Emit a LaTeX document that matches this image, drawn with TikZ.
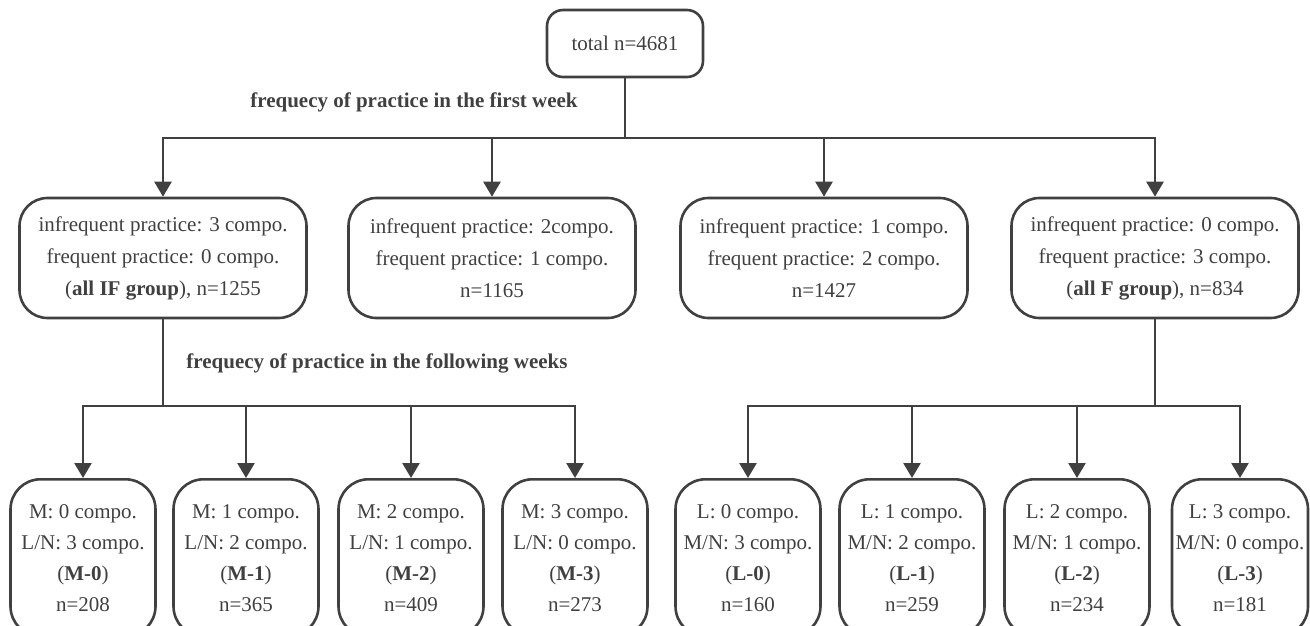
\documentclass[tikz,border=0pt]{standalone}
\usepackage{fontspec}
\setmainfont{Liberation Serif}
\usetikzlibrary{arrows.meta}
\definecolor{ink}{HTML}{404040}
\begin{document}
\begin{tikzpicture}[x=1pt,y=-1pt,font=\fontsize{21}{31}\selectfont,
  every node/.style={text=ink},
  line/.style={draw=ink,line width=2.6pt},
  arr/.style={line,-{Triangle[width=17pt,length=15pt]}},
  topbox/.style={line,rounded corners=16pt,minimum width=156pt,minimum height=67pt,inner sep=0pt},
  grpbox/.style={line,rounded corners=28pt,minimum width=287pt,minimum height=120pt,inner sep=0pt,align=center,font=\fontsize{21}{32}\selectfont},
  subbox/.style={line,rounded corners=30pt,minimum width=145pt,minimum height=157pt,inner sep=0pt,align=center,anchor=north},
  lbl/.style={font=\fontsize{21}{25}\selectfont\bfseries}]
\clip (0,0) rectangle (1310,626);
% first level
\node[topbox] (tot) at (625,43.5) {total n=4681};
\node[lbl] (w1) at (414,102) {frequecy of practice in the first week};
\node[grpbox] (g1) at (163,258) {infrequent practice: 3 compo.\\frequent practice: 0 compo.\\(\textbf{all IF group}), n=1255};
\node[grpbox] (g2) at (492,258) {infrequent practice: 2compo.\\frequent practice: 1 compo.\\n=1165};
\node[grpbox] (g3) at (824,258) {infrequent practice: 1 compo.\\frequent practice: 2 compo.\\n=1427};
\node[grpbox] (g4) at (1155,258) {infrequent practice: 0 compo.\\frequent practice: 3 compo.\\(\textbf{all F group}), n=834};
\coordinate (j0) at (tot.south |- 0,138);
\draw[line] (tot) -- (j0);
\foreach \g in {g1,g2,g3,g4}{\draw[arr] (j0) -| (\g.north);}
% following weeks
\node[lbl] (w2) at (377,363) {frequecy of practice in the following weeks};
\foreach \x/\k/\a/\b/\n in {83/0/0/3/208,246/1/1/2/365,411/2/2/1/409,575/3/3/0/273}{\node[subbox] (m\k) at (\x,478) {M: \a\ compo.\\L/N: \b\ compo.\\(\textbf{M-\k})\\n=\n};}
\foreach \x/\k/\a/\b/\n in {748/0/0/3/160,912/1/1/2/259,1077/2/2/1/234}{\node[subbox] (l\k) at (\x,478) {L: \a\ compo.\\M/N: \b\ compo.\\(\textbf{L-\k})\\n=\n};}
\node[subbox,minimum width=136pt] (l3) at (1240,478) {L: 3 compo.\\M/N: 0 compo.\\(\textbf{L-3})\\n=181};
\coordinate (j1) at (g1.south |- 0,406);
\draw[line] (g1) -- (j1);
\foreach \m in {m0,m1,m2,m3}{\draw[arr] (j1) -| (\m.north);}
\coordinate (j2) at (g4.south |- 0,406);
\draw[line] (g4) -- (j2);
\foreach \m in {l0,l1,l2,l3}{\draw[arr] (j2) -| (\m.north);}
\end{tikzpicture}
\end{document}
